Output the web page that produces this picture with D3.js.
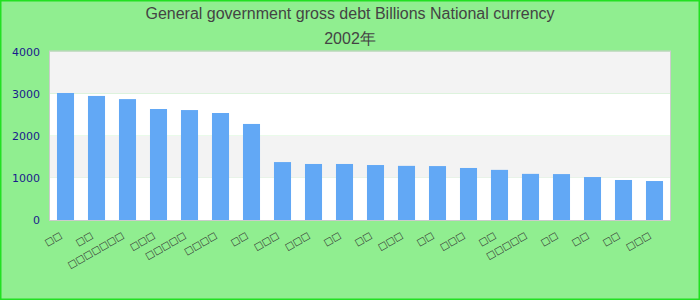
<!DOCTYPE html>
<html>
<head>
<meta charset="utf-8">
<script src="https://cdn.jsdelivr.net/npm/d3@7"></script>
<style>
  body { margin: 0; }
  svg { display: block; }
</style>
</head>
<body>
<div id="chart"></div>
<script>
// labels could not be read in the reference (rendered as missing glyphs), box count kept per label
var categories = ["□□", "□□", "□□□□□□□", "□□□", "□□□□□", "□□□□", "□□", "□□□", "□□□", "□□",
                  "□□", "□□□", "□□", "□□□", "□□", "□□□□□", "□□", "□□", "□□", "□□□"];
var debtValues = [3015, 2945, 2870, 2635, 2610, 2540, 2280, 1375, 1330, 1330,
                  1305, 1285, 1280, 1235, 1190, 1095, 1090, 1020, 950, 925];
var yTicks = [0, 1000, 2000, 3000, 4000];
var titleLines = ["General government gross debt Billions National currency", "2002年"];

var width = 700, height = 300;
var margin = {top: 51.5, right: 30, bottom: 80, left: 50};
var innerW = width - margin.left - margin.right;
var innerH = height - margin.top - margin.bottom;

var svg = d3.select("#chart").append("svg")
    .attr("width", width)
    .attr("height", height);

// background + outer border
svg.append("rect")
    .attr("x", 0.75).attr("y", 0.75)
    .attr("width", width - 1.5).attr("height", height - 1.5)
    .attr("fill", "#90ee90")
    .attr("stroke", "#22e022")
    .attr("stroke-width", 1.5);

// title
svg.selectAll("text.title")
    .data(titleLines)
    .enter().append("text")
    .attr("class", "title")
    .attr("x", width / 2)
    .attr("y", function(d, i) { return 19 + i * 25; })
    .attr("text-anchor", "middle")
    .attr("fill", "#444")
    .style("font-family", "'Liberation Sans', Arial, sans-serif")
    .style("font-size", "16px")
    .text(function(d) { return d; });

var g = svg.append("g")
    .attr("transform", "translate(" + margin.left + "," + margin.top + ")");

var xScale = d3.scaleBand()
    .domain(d3.range(categories.length))
    .range([0, innerW])
    .paddingInner(0.45)
    .paddingOuter(0.225);

var yScale = d3.scaleLinear()
    .domain([0, 4000])
    .range([innerH, 0]);

// alternating bands
g.selectAll("rect.band")
    .data(yTicks.slice(0, -1))
    .enter().append("rect")
    .attr("class", "band")
    .attr("x", 0)
    .attr("y", function(d) { return yScale(d + 1000); })
    .attr("width", innerW)
    .attr("height", function(d) { return yScale(d) - yScale(d + 1000); })
    .attr("fill", function(d, i) { return i % 2 == 0 ? "#ffffff" : "#f3f3f3"; });

// plot border
g.append("rect")
    .attr("x", -0.5).attr("y", -0.5)
    .attr("width", innerW + 1).attr("height", innerH + 1)
    .attr("fill", "none")
    .attr("stroke", "#cccccc")
    .attr("stroke-width", 1);

// bars
g.selectAll("rect.bar")
    .data(debtValues)
    .enter().append("rect")
    .attr("class", "bar")
    .attr("x", function(d, i) { return xScale(i); })
    .attr("y", function(d) { return yScale(d); })
    .attr("width", xScale.bandwidth())
    .attr("height", function(d) { return innerH - yScale(d); })
    .attr("fill", "#62a8f5");

// y axis
var yAxis = g.append("g")
    .call(d3.axisLeft(yScale).tickValues(yTicks).tickSize(0).tickPadding(10).tickFormat(d3.format("d")));
yAxis.select(".domain").remove();
yAxis.selectAll("text")
    .attr("fill", "#1a1a8c")
    .style("font-family", "'DejaVu Sans', sans-serif")
    .style("font-size", "11px");

// x axis labels, rotated
var xAxis = g.append("g")
    .attr("transform", "translate(0," + innerH + ")")
    .call(d3.axisBottom(xScale).tickSize(0).tickFormat(function(i) { return categories[i]; }));
xAxis.select(".domain").remove();
xAxis.selectAll("text")
    .attr("fill", "#333")
    .style("font-family", "'DejaVu Sans', sans-serif")
    .style("font-size", "9.5px")
    .attr("text-anchor", "end")
    .attr("y", 0)
    .attr("dy", 0)
    .attr("transform", "translate(-3,17) rotate(-30)");
</script>
</body>
</html>
